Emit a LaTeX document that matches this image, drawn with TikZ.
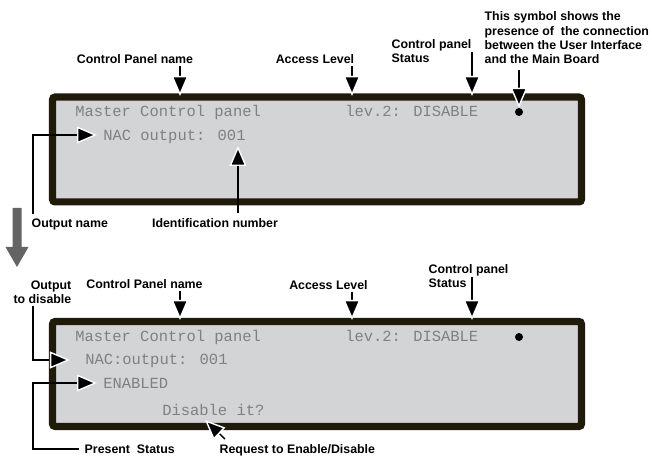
\documentclass[tikz,border=0pt]{standalone}
\usepackage{fontspec}
\setmainfont{Liberation Sans}
\newfontfamily\lcdfamily{Liberation Mono}
\usetikzlibrary{arrows.meta,positioning}
\definecolor{frame}{RGB}{32,26,10}
\definecolor{glass}{RGB}{211,212,214}
\definecolor{pixel}{RGB}{128,128,128}
\definecolor{slate}{RGB}{100,100,100}
\tikzset{
  >={Triangle[length=5mm,width=4.2mm,fill=black,color=white]},
  lcd/.style={draw=frame,fill=glass,line width=1.8mm,rounded corners=0.6mm,
    minimum width=132.2mm,minimum height=26.2mm,inner sep=0pt},
  screen/.style={font=\lcdfamily\fontsize{11}{13}\selectfont,text=pixel,
    anchor=base west,inner sep=0pt},
  tag/.style={font=\bfseries\fontsize{8.8}{10.2}\selectfont,inner sep=1pt},
  pointer/.style={->,line width=0.35mm,draw=black},
  link/.style={circle,fill=black,minimum size=2mm,inner sep=0pt},
}
\begin{document}
\begin{tikzpicture}[x=0.25mm,y=-0.25mm]
  \useasboundingbox (0,0) rectangle (652,456);
  % upper display
  \node[lcd] (top) at (317,149.5) {};
  \node[screen] (m1) at (75,117) {Master Control panel};
  \node[screen] (l1) at (345,117) {lev.2: DISABLE};
  \node[screen] (n1) at (103,141) {NAC output: 001};
  \node[link] (dot1) at (519,112) {};
  % labels of the upper display
  \node[tag,anchor=base] (cpn1) at (135,64) {Control Panel name};
  \node[tag,anchor=base] (acc1) at (315,64) {Access Level};
  \node[tag,anchor=base west,align=left] (sta1) at (390,63) {Control panel\\Status};
  \node[tag,anchor=base west,align=left] (sym1) at (483,64)
    {This symbol shows the\\presence of\ \ the connection\\between the User Interface\\and the Main Board};
  \node[tag,anchor=base west] (outn) at (30,228) {Output name};
  \node[tag,anchor=base] (idn) at (215,228) {Identification number};
  \coordinate (cpnTip1) at (180,96);
  \coordinate (accTip1) at (352,96);
  \coordinate (staTop1) at (472,52);
  \coordinate (staTip1) at (472,96);
  \coordinate (outBend) at (33,135);
  \coordinate (outTip) at (97,135);
  \coordinate (idTip) at (238,146);
  \draw[pointer] (cpn1.south -| cpnTip1) -- (cpnTip1);
  \draw[pointer] (acc1.south -| accTip1) -- (accTip1);
  \draw[pointer] (staTop1) -- (staTip1);
  \draw[pointer] ([yshift=-1mm]sym1.south -| dot1) -- (dot1.north);
  \draw[pointer] ([yshift=1mm]outn.north -| outBend) -- (outBend) -- (outTip);
  \draw[pointer] ([yshift=1mm]idn.north -| idTip) -- (idTip);
  % step arrow
  \fill[slate] (12.5,208) -- (21.5,208) -- (21.5,247) -- (28.5,247) -- (17,267)
    -- (5.5,247) -- (12.5,247) -- cycle;
  % lower display
  \node[lcd] (bot) at (317,374) {};
  \node[screen] (m2) at (75,342) {Master Control panel};
  \node[screen] (l2) at (345,342) {lev.2: DISABLE};
  \node[screen] (n2) at (85,365) {NAC:output: 001};
  \node[screen] (e2) at (103,389) {ENABLED};
  \node[screen] (d2) at (162,416) {Disable it?};
  \node[link] (dot2) at (519,337) {};
  % labels of the lower display
  \node[tag,anchor=base east,align=right] (outd) at (73,304) {Output\\to disable};
  \node[tag,anchor=base] (cpn2) at (144.5,289) {Control Panel name};
  \node[tag,anchor=base] (acc2) at (328.5,290) {Access Level};
  \node[tag,anchor=base west,align=left] (sta2) at (427,288) {Control panel\\Status};
  \node[tag,anchor=base west] (pres) at (83,454) {Present\ \ Status};
  \node[tag,anchor=base west] (req) at (218,454) {Request to Enable/Disable};
  \coordinate (outdBend) at (33,360);
  \coordinate (outdTip) at (70,360);
  \coordinate (cpnTip2) at (180,320);
  \coordinate (accTip2) at (352,320);
  \coordinate (staTop2) at (472,277);
  \coordinate (staTip2) at (472,320);
  \coordinate (presBend) at (33,449);
  \coordinate (presUp) at (33,383);
  \coordinate (presTip) at (97,383);
  \coordinate (reqStart) at (225,439);
  \coordinate (reqTip) at (205,420);
  \draw[pointer] (outd.south -| outdBend) -- (outdBend) -- (outdTip);
  \draw[pointer] (cpn2.south -| cpnTip2) -- (cpnTip2);
  \draw[pointer] (acc2.south -| accTip2) -- (accTip2);
  \draw[pointer] (staTop2) -- (staTip2);
  \draw[pointer] ([xshift=-1mm]pres.west |- presBend) -- (presBend) -- (presUp) -- (presTip);
  \draw[pointer] (reqStart) -- (reqTip);
\end{tikzpicture}
\end{document}
